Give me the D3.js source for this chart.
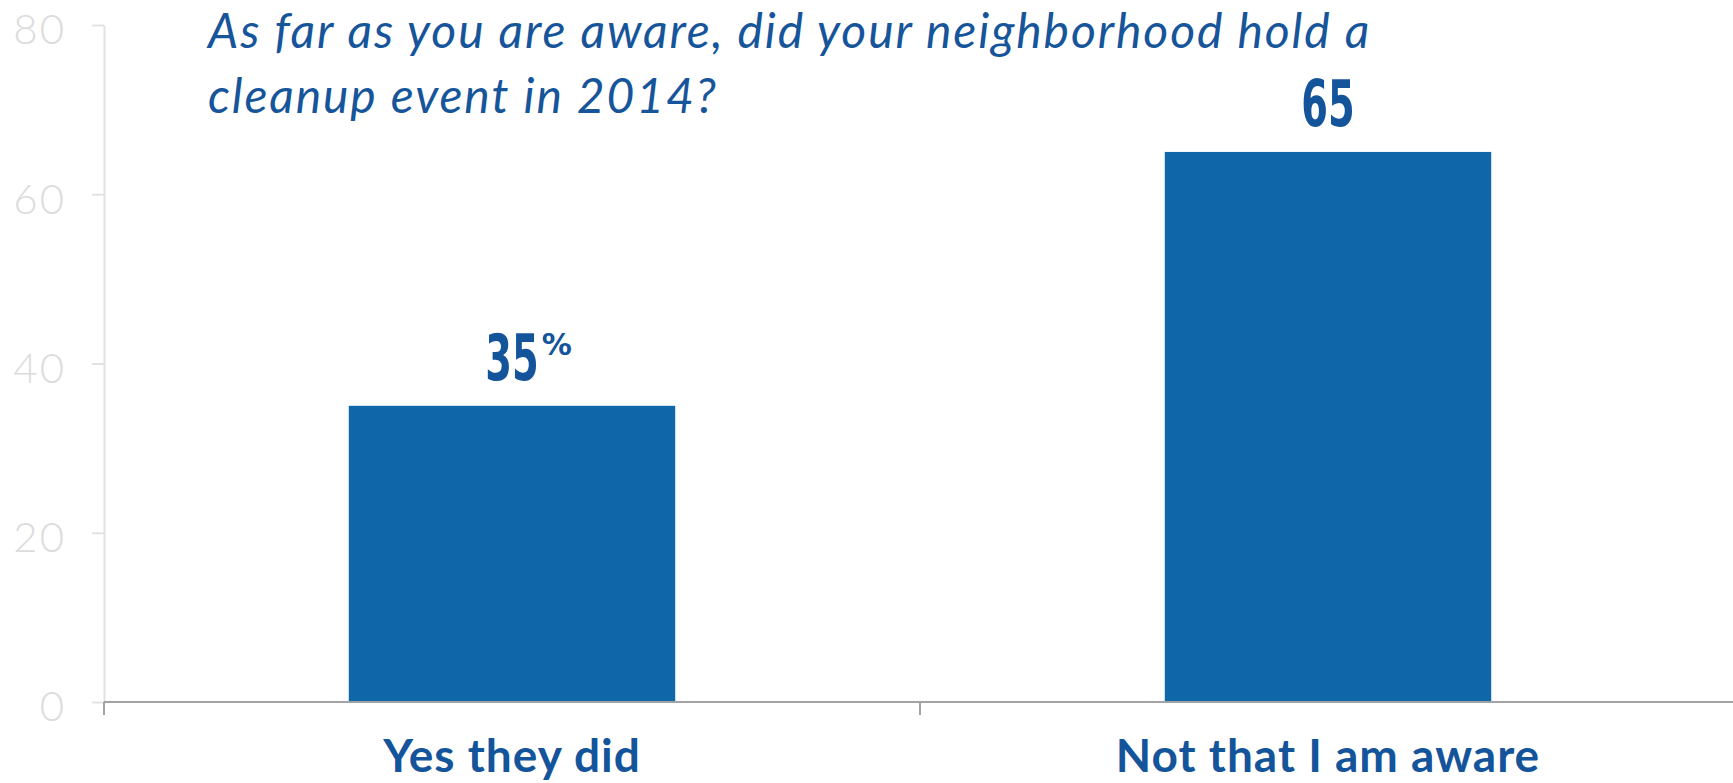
<!DOCTYPE html>
<html>
<head>
<meta charset="utf-8">
<script src="https://cdn.jsdelivr.net/npm/d3@7"></script>
<style>
  body { margin: 0; background: #fff; }
</style>
</head>
<body>
<div id="chart"></div>
<script>
// data
var categories = ["Yes they did", "Not that I am aware"];
var values = [35, 65];
var valueSuffix = ["%", ""];
var yTicks = [0, 20, 40, 60, 80];
var titleLines = ["As far as you are aware, did your neighborhood hold a",
                  "cleanup event in 2014?"];

var W = 1733, H = 783;
var margin = {top: 25, left: 104, bottom: 81};

var svg = d3.select("#chart")
  .append("svg")
    .attr("width", W)
    .attr("height", H);

// scales
var y = d3.scaleLinear()
  .domain([0, 80])
  .range([H - margin.bottom, margin.top]);

var x = d3.scaleBand()
  .domain(categories)
  .range([margin.left, margin.left + 2 * 816])
  .paddingInner(0.6)
  .paddingOuter(0.3);

// y axis
var yAxis = svg.append("g")
  .attr("transform", "translate(" + margin.left + ",0)")
  .call(d3.axisLeft(y).tickValues(yTicks).tickSize(12).tickSizeOuter(0).tickPadding(26));
yAxis.select(".domain").attr("stroke", "#e2e2e2").attr("stroke-width", 2);
yAxis.selectAll(".tick line").attr("stroke", "#e2e2e2").attr("stroke-width", 2);
yAxis.selectAll(".tick text")
  .attr("fill", "#dcdcdc")
  .attr("font-family", "Lato, sans-serif")
  .attr("font-weight", 300)
  .attr("font-size", 42)
  .attr("letter-spacing", 2)
  .attr("dy", "0.45em");

// bars
svg.selectAll(".bar")
  .data(values)
  .enter().append("rect")
    .attr("class", "bar")
    .attr("x", function(d, i) { return x(categories[i]); })
    .attr("width", x.bandwidth())
    .attr("y", function(d) { return y(d); })
    .attr("height", function(d) { return y(0) - y(d); })
    .attr("fill", "#0f66a8");

// x axis line + band boundary ticks
svg.append("line")
  .attr("x1", margin.left).attr("x2", W)
  .attr("y1", y(0)).attr("y2", y(0))
  .attr("stroke", "#a3a3a3").attr("stroke-width", 2);

var step = x.step();
svg.selectAll(".xtick")
  .data(categories)
  .enter().append("line")
    .attr("class", "xtick")
    .attr("x1", function(d) { return x(d) - x.paddingOuter() * step; })
    .attr("x2", function(d) { return x(d) - x.paddingOuter() * step; })
    .attr("y1", y(0)).attr("y2", y(0) + 13)
    .attr("stroke", "#a3a3a3").attr("stroke-width", 2);

// category labels
svg.selectAll(".cat")
  .data(categories)
  .enter().append("text")
    .attr("class", "cat")
    .attr("x", function(d) { return x(d) + x.bandwidth() / 2; })
    .attr("y", 772)
    .attr("text-anchor", "middle")
    .attr("fill", "#14549a")
    .attr("font-family", "Lato, sans-serif")
    .attr("font-weight", 700)
    .attr("font-size", 46)
    .attr("letter-spacing", 1)
    .text(function(d) { return d; });

// value labels (condensed look: squeeze the digits horizontally)
var squeeze = 0.6;
values.forEach(function(d, i) {
  var cx = x(categories[i]) + x.bandwidth() / 2,
      by = y(d) - 26;
  var t = svg.append("text")
    .attr("class", "val")
    .attr("transform", "translate(" + cx + "," + by + ") scale(" + squeeze + ",1)")
    .attr("text-anchor", "middle")
    .attr("fill", "#14549a")
    .attr("font-family", "'DejaVu Sans', sans-serif")
    .attr("font-weight", 700)
    .attr("font-size", 64)
    .text(d);
  if (valueSuffix[i]) {
    var w = t.node().getBBox().width * squeeze;
    svg.append("text")
      .attr("x", cx + w / 2 + 3)
      .attr("y", by - 25)
      .attr("fill", "#14549a")
      .attr("font-family", "'DejaVu Sans', sans-serif")
      .attr("font-weight", 700)
      .attr("font-size", 30)
      .attr("transform", "scale(1,1)")
      .text(valueSuffix[i]);
  }
});

// title
svg.selectAll(".title")
  .data(titleLines)
  .enter().append("text")
    .attr("class", "title")
    .attr("x", 208)
    .attr("y", function(d, i) { return 48 + i * 65; })
    .attr("fill", "#17559b")
    .attr("font-family", "Lato, sans-serif")
    .attr("font-style", "italic")
    .attr("font-weight", 400)
    .attr("font-size", 48)
    .attr("letter-spacing", 1.9)
    .text(function(d) { return d; });
</script>
</body>
</html>
